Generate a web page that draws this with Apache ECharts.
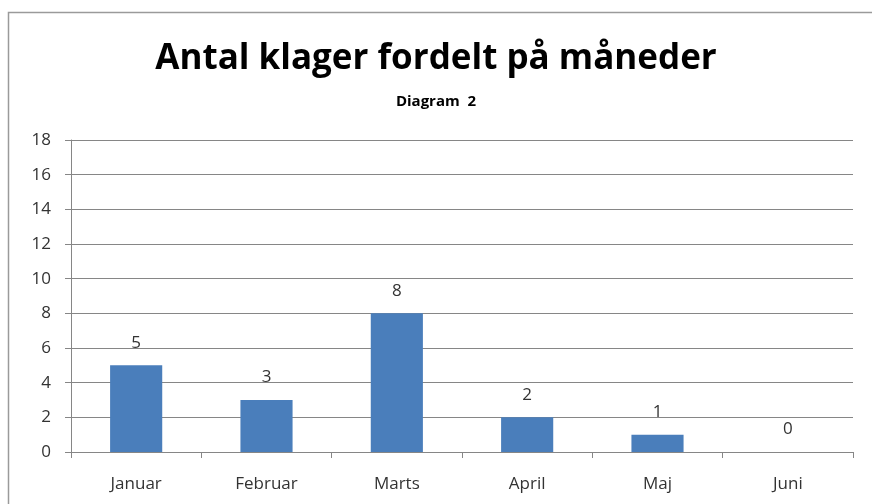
<!DOCTYPE html>
<html>
<head>
<meta charset="utf-8">
<title>Antal klager fordelt på måneder</title>
<script src="https://cdn.jsdelivr.net/npm/echarts@6/dist/echarts.min.js"></script>
<style>
  html, body { margin: 0; padding: 0; background: #fff; }
  #chart { width: 872px; height: 504px; }
</style>
</head>
<body>
<div id="chart"></div>
<script>
// data
var months = ['Januar', 'Februar', 'Marts', 'April', 'Maj', 'Juni']
var klager = [5, 3, 8, 2, 1, 0]
var yMin = 0
var yMax = 18
var yStep = 2

var textColor = '#333'
var lineColor = '#868686'

var chart = echarts.init(document.getElementById('chart'), null, { renderer: 'canvas' })

chart.setOption({
  animation: false,
  backgroundColor: '#fff',
  graphic: [{
    type: 'rect',
    left: 6,
    top: 10,
    shape: { width: 880, height: 510 },
    style: { fill: 'none', stroke: '#9a9a9a', lineWidth: 1.5 },
    silent: true
  }],
  title: [{
    text: 'Antal klager fordelt på måneder',
    left: 'center',
    top: 37,
    textStyle: {
      fontFamily: 'Open Sans',
      fontWeight: 'bold',
      fontSize: 35,
      color: '#000'
    }
  }, {
    text: 'Diagram  2',
    left: 'center',
    top: 89,
    textStyle: {
      fontFamily: 'Open Sans',
      fontWeight: 'bold',
      fontSize: 15,
      color: '#000'
    }
  }],
  grid: {
    left: 71,
    right: 19,
    top: 140,
    bottom: 52
  },
  xAxis: {
    type: 'category',
    data: months,
    axisLine: { lineStyle: { color: lineColor, width: 1 } },
    axisTick: { show: true, length: 6, lineStyle: { color: lineColor } },
    axisLabel: {
      color: textColor,
      fontFamily: 'Open Sans',
      fontSize: 17,
      margin: 24
    }
  },
  yAxis: {
    type: 'value',
    min: yMin,
    max: yMax,
    interval: yStep,
    axisLine: { show: true, lineStyle: { color: lineColor, width: 1 } },
    axisTick: { show: true, length: 6, lineStyle: { color: lineColor } },
    splitLine: { lineStyle: { color: lineColor, width: 1 } },
    axisLabel: {
      color: textColor,
      fontFamily: 'Open Sans',
      fontSize: 17,
      margin: 20
    }
  },
  series: [{
    type: 'bar',
    data: klager,
    barWidth: '40%',
    itemStyle: { color: '#4a7ebb' },
    label: {
      show: true,
      position: 'top',
      distance: 14,
      color: textColor,
      fontFamily: 'Open Sans',
      fontSize: 17
    }
  }]
})
</script>
</body>
</html>
